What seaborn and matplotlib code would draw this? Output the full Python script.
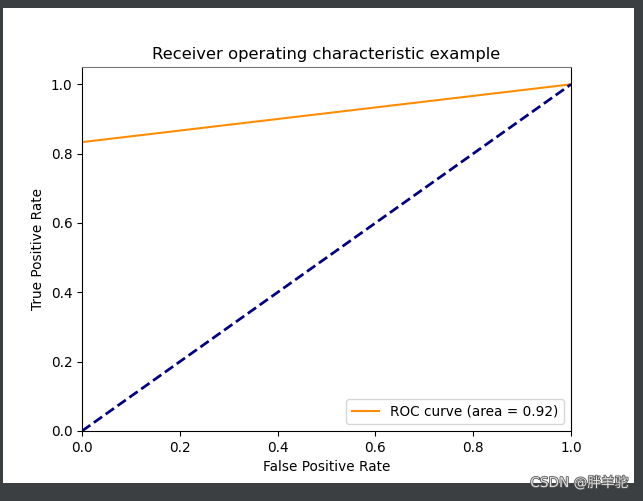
import numpy as np
import seaborn as sns
import matplotlib.pyplot as plt
import matplotlib.patheffects as pe
from matplotlib.patches import Rectangle

# ROC points
fpr = [0.0, 0.0, 1.0]
tpr = [0.0, 0.8333, 1.0]
chance_x = [0.0, 1.0]
chance_y = [0.0, 1.0]
roc_auc = 0.92

plt.rcParams['font.family'] = ['DejaVu Sans', 'Noto Sans CJK SC']

W, H = 643, 501
dpi = 98.6
fig = plt.figure(figsize=(W / dpi, H / dpi), dpi=dpi, facecolor='#3c3f41')

# white figure area inside the dark screenshot frame
fig.patches.append(Rectangle((3 / W, 1 - 483 / H), 631 / W, 475 / H,
                             transform=fig.transFigure, facecolor='white',
                             edgecolor='none', zorder=-10))

ax = fig.add_axes([82 / W, 1 - 431 / H, 489 / W, 364 / H])

sns.lineplot(x=fpr, y=tpr, sort=False, estimator=None, color='darkorange',
             lw=1.5, label='ROC curve (area = %0.2f)' % roc_auc, ax=ax)
sns.lineplot(x=chance_x, y=chance_y, sort=False, estimator=None, color='navy',
             lw=2, linestyle='--', ax=ax)

ax.set_xlim([0.0, 1.0])
ax.set_ylim([0.0, 1.05])
ax.set_xlabel('False Positive Rate')
ax.set_ylabel('True Positive Rate')
ax.set_title('Receiver operating characteristic example')
ax.spines['top'].set_color('#777777')
ax.legend(loc='lower right')

# watermark
fig.text(628 / W, 1 - 483 / H, 'CSDN @胖羊驼', ha='right', va='center',
         fontsize=10, color='#e0e0e0',
         family=['DejaVu Sans', 'Noto Sans CJK SC'],
         path_effects=[pe.withStroke(linewidth=1.2, foreground='#555555')])

fig.savefig('out.png', dpi=dpi, facecolor=fig.get_facecolor())
